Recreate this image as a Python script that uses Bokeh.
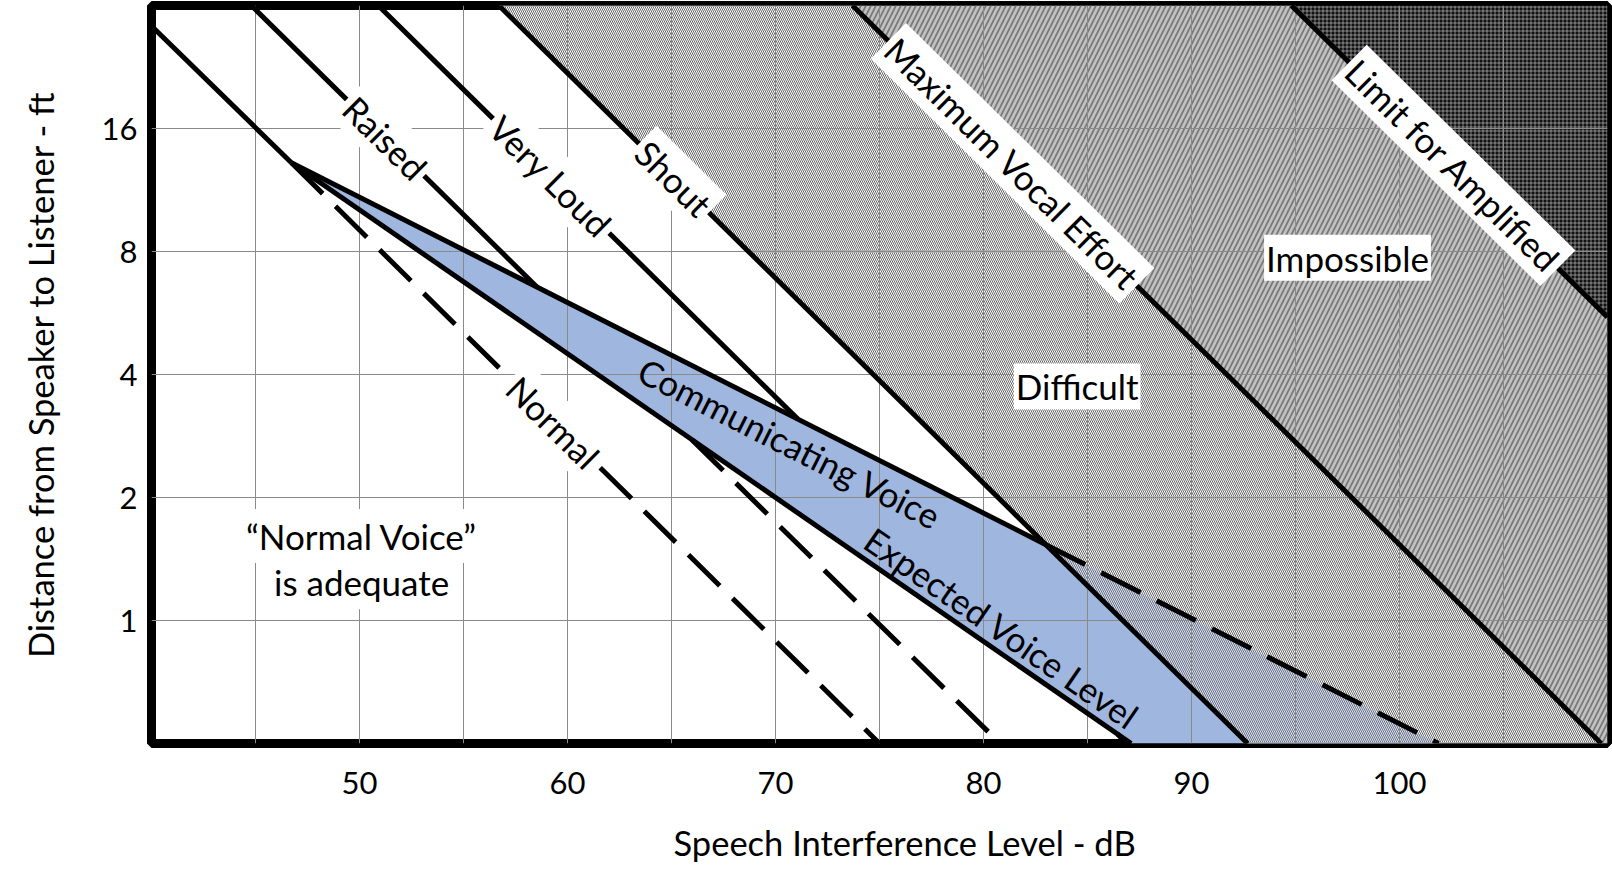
import math
from bokeh.plotting import figure
from bokeh.models import Range1d, FixedTicker, PrintfTickFormatter, Label, Title
from bokeh.embed import file_html
from bokeh.resources import INLINE

# ---------------- data ----------------
x_limits_db = [40, 110]
y_limits_ft = [0.5, 32]
x_major_ticks = [50, 60, 70, 80, 90, 100]
x_minor_ticks = [45, 55, 65, 75, 85, 95, 105]
y_ticks = [1, 2, 4, 8, 16]

# voice-effort lines: speech interference level (dB) at 1 ft, 6 dB per doubling of distance
voice_names = ["Normal", "Raised", "Very Loud", "Shout"]
voice_level_1ft = [69.0, 74.8, 80.9, 86.7]
limit_names = ["Maximum Vocal Effort", "Limit for Amplified"]
limit_level_1ft = [103.7, 124.8]
slope_db_per_doubling = [6.0, 6.0, 6.0, 6.0, 6.0, 6.0]

communicating_level_1ft = 90.2
communicating_slope = 11.68
expected_level_1ft = 78.55
expected_slope = 8.55

# label anchor distances (ft) along each line
voice_label_ft = [3.06, 15.2, 12.25, 12.1]
limit_label_ft = [13.15, 13.0]

# ---------------- geometry helpers ----------------
XMIN, XMAX = x_limits_db
LMIN, LMAX = math.log2(y_limits_ft[0]), math.log2(y_limits_ft[1])
W, H = 1612, 893
BL, BR, BT, BB = 151, 5, 5, 150
px_per_db = (W - BL - BR) / (XMAX - XMIN)
px_per_oct = (H - BT - BB) / (LMAX - LMIN)


def sil(a, s, L):
    return a - s * L


def clip(a, s):
    xt, Lt = a - s * LMAX, LMAX
    if xt < XMIN:
        Lt, xt = (a - XMIN) / s, XMIN
    xb, Lb = a - s * LMIN, LMIN
    if xb > XMAX:
        Lb, xb = (a - XMAX) / s, XMAX
    return (xt, Lt), (xb, Lb)


def cross(a1, s1, a2, s2):
    L = (a1 - a2) / (s1 - s2)
    return (sil(a1, s1, L), L)


def angle_for(s):
    return -math.atan2(px_per_oct, s * px_per_db)


def ft(L):
    return 2.0 ** L


p = figure(width=W, height=H, x_range=Range1d(XMIN, XMAX),
           y_range=Range1d(y_limits_ft[0], y_limits_ft[1]), y_axis_type="log",
           output_backend="svg", toolbar_location=None,
           min_border_left=BL, min_border_right=BR, min_border_top=BT, min_border_bottom=BB,
           background_fill_color="white", border_fill_color="white")

sh_a, sh_s = voice_level_1ft[3], slope_db_per_doubling[3]
mx_a, mx_s = limit_level_1ft[0], slope_db_per_doubling[4]
lm_a, lm_s = limit_level_1ft[1], slope_db_per_doubling[5]
cv_a, cv_s = communicating_level_1ft, communicating_slope
ex_a, ex_s = expected_level_1ft, expected_slope

vertex = cross(cv_a, cv_s, ex_a, ex_s)
shout_cv = cross(sh_a, sh_s, cv_a, cv_s)
sh_top, sh_bot = clip(sh_a, sh_s)
mx_top, mx_bot = clip(mx_a, mx_s)
lm_top, lm_bot = clip(lm_a, lm_s)
cv_bot = clip(cv_a, cv_s)[1]
ex_bot = clip(ex_a, ex_s)[1]


def patch(pts, **kw):
    r = p.patch([q[0] for q in pts], [ft(q[1]) for q in pts], line_color=None, **kw)
    r.level = "image"
    return r


# Difficult region (between Shout and Maximum Vocal Effort)
diff_pts = [sh_top, mx_top, mx_bot]
if mx_bot[0] >= XMAX - 1e-9:
    diff_pts.append((XMAX, LMIN))
diff_pts.append(sh_bot)
patch(diff_pts, fill_color="white", hatch_pattern="left_diagonal_line",
      hatch_color="#666666", hatch_scale=4, hatch_weight=1.0)

# Impossible region
imp_pts = [mx_top, lm_top, lm_bot]
if mx_bot[0] < XMAX - 1e-9:
    imp_pts.append((XMAX, LMIN))
imp_pts.append(mx_bot)
patch(imp_pts, fill_color="#c2c2c2", hatch_pattern="right_diagonal_line",
      hatch_color="#7a7a7a", hatch_scale=10, hatch_weight=1.8)

# beyond the limit for amplified speech
patch([lm_top, (XMAX, LMAX), lm_bot], fill_color="#111111", hatch_pattern="cross",
      hatch_color="white", hatch_alpha=0.45, hatch_scale=4, hatch_weight=1)

# communicating-voice band
patch([vertex, shout_cv, sh_bot, ex_bot], fill_color="#9fb6df")
patch([shout_cv, cv_bot, sh_bot], fill_color="#dbe3f3", hatch_pattern="left_diagonal_line",
      hatch_color="#6a7080", hatch_scale=4, hatch_weight=1.0)

p.xgrid.ticker = FixedTicker(ticks=x_major_ticks, minor_ticks=x_minor_ticks)
p.xgrid.grid_line_color = "#8a8a8a"
p.xgrid.minor_grid_line_color = "#8a8a8a"
p.ygrid.ticker = FixedTicker(ticks=y_ticks)
p.ygrid.grid_line_color = "#8a8a8a"

LW = 5
DASH = "44 18"


def seg(a_pt, b_pt, dash="solid"):
    r = p.line([a_pt[0], b_pt[0]], [ft(a_pt[1]), ft(b_pt[1])], line_color="black",
               line_width=LW, line_dash=dash, line_cap="butt", line_join="miter")
    return r


# voice lines
for a, s in zip(voice_level_1ft, slope_db_per_doubling[:4]):
    top, bot = clip(a, s)
    if a == sh_a:
        seg(top, bot)
        continue
    if abs(a - (vertex[0] + s * vertex[1])) < 0.2:   # Normal: passes through the vertex
        seg(top, vertex)
        seg(vertex, bot, DASH)
        continue
    c_up = cross(a, s, cv_a, cv_s)
    c_lo = cross(a, s, ex_a, ex_s)
    seg(top, c_up)
    if c_lo[1] > LMIN:
        seg(c_lo, bot, DASH)

for a, s in zip(limit_level_1ft, slope_db_per_doubling[4:]):
    top, bot = clip(a, s)
    seg(top, bot)

seg(vertex, shout_cv)
seg(shout_cv, cv_bot, DASH)
seg(vertex, ex_bot)

# ---------------- labels ----------------
FONT = "Lato"
FS = "35px"


def lab(x, yft, text, ang=0.0, bg=True, pad=4):
    kw = dict(background_fill_color="white", background_fill_alpha=1.0, padding=pad) if bg else {}
    p.add_layout(Label(x=x, y=yft, text=text, angle=ang, text_align="center",
                       text_baseline="middle", text_font=FONT, text_font_size=FS,
                       text_color="black", **kw))


for name, a, s, d in zip(voice_names, voice_level_1ft, slope_db_per_doubling[:4], voice_label_ft):
    L = math.log2(d)
    lab(sil(a, s, L), d, name, angle_for(s))
for name, a, s, d in zip(limit_names, limit_level_1ft, slope_db_per_doubling[4:], limit_label_ft):
    L = math.log2(d)
    lab(sil(a, s, L), d, name, angle_for(s))

lab(70.7, 2.72, "Communicating Voice", angle_for(cv_s), bg=False)
lab(80.9, 0.96, "Expected Voice Level", angle_for(ex_s), bg=False)
lab(84.5, 3.74, "Difficult", pad=2)
lab(97.5, 7.72, "Impossible", pad=2)
lab(50.1, 1.61, "\u201cNormal Voice\u201d", pad=6)
lab(50.1, 1.24, "is adequate", pad=6)

# ---------------- axes ----------------
p.outline_line_color = "black"
p.outline_line_width = 9

p.xaxis.ticker = FixedTicker(ticks=x_major_ticks, minor_ticks=x_minor_ticks)
p.yaxis.ticker = FixedTicker(ticks=y_ticks)
p.yaxis.formatter = PrintfTickFormatter(format="%d")
for ax in (p.xaxis, p.yaxis):
    ax.axis_line_color = None
    ax.major_tick_line_color = None
    ax.minor_tick_line_color = None
    ax.major_label_text_font = FONT
    ax.major_label_text_font_size = "31px"
    ax.major_label_text_color = "black"
    ax.axis_label_text_font = FONT
    ax.axis_label_text_font_size = "34.5px"
    ax.axis_label_text_font_style = "normal"
    ax.axis_label_text_color = "black"

p.yaxis.axis_label = "Distance from Speaker to Listener - ft"
p.xaxis.major_label_standoff = 22
p.yaxis.major_label_standoff = 8
p.yaxis.axis_label_standoff = 38

xtitle = Title(text="Speech Interference Level - dB", align="left", offset=522,
               text_font=FONT, text_font_size="34.5px", text_font_style="normal",
               text_color="black", standoff=46)
p.add_layout(xtitle, "below")

open("out.html", "w").write(file_html(p, INLINE))
